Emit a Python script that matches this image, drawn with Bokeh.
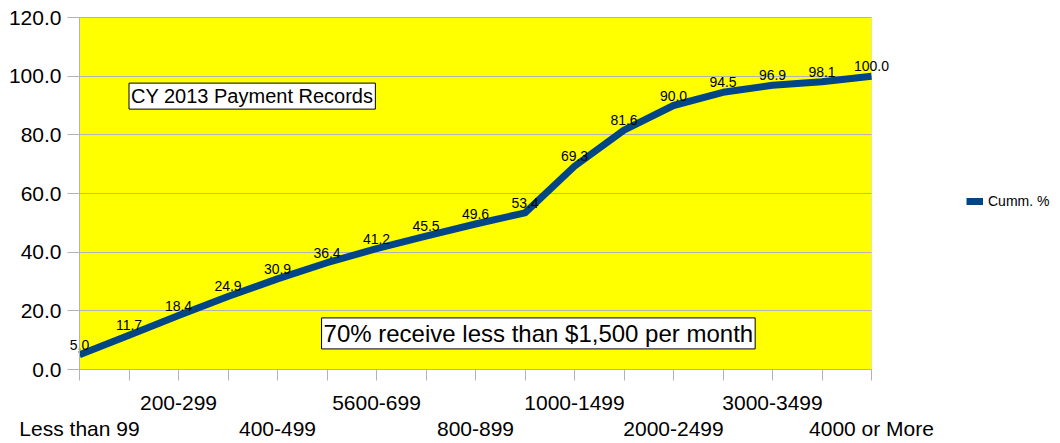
from bokeh.plotting import figure
from bokeh.models import (ColumnDataSource, FixedTicker, LinearAxis, Label,
                          Legend, LegendItem, Range1d, NumeralTickFormatter,
                          BoxAnnotation)
from bokeh.embed import file_html
from bokeh.resources import INLINE

# Monthly payment brackets and cumulative share of records (%)
brackets = [
    "Less than 99", "100-199", "200-299", "300-399", "400-499", "500-599",
    "5600-699", "700-799", "800-899", "900-999", "1000-1499", "1500-1999",
    "2000-2499", "2500-2999", "3000-3499", "3500-3999", "4000 or More",
]
cumm_pct = [5.0, 11.7, 18.4, 24.9, 30.9, 36.4, 41.2, 45.5, 49.6, 53.4,
            69.3, 81.6, 90.0, 94.5, 96.9, 98.1, 100.0]
y_ticks = [0, 20, 40, 60, 80, 100, 120]
series_name = "Cumm. %"

FONT = "Liberation Sans"
LINE_BLUE = "#004586"
GRID_GRAY = "#b3b3b3"

W, H = 1060, 443
# pixel extent of the yellow plotting wall inside the page
WALL_LEFT, WALL_RIGHT, WALL_TOP, WALL_BOTTOM = 79, 871, 17, 369
Y_MAX = 120
n = len(brackets)
px_x = (WALL_RIGHT - WALL_LEFT) / (n - 1)
px_y = (WALL_BOTTOM - WALL_TOP) / Y_MAX
x_lo = -WALL_LEFT / px_x
x_hi = (n - 1) + (W - WALL_RIGHT) / px_x
y_lo = -(H - WALL_BOTTOM) / px_y
y_hi = Y_MAX + WALL_TOP / px_y

idx = list(range(n))
src = ColumnDataSource(dict(
    x=idx,
    y=cumm_pct,
    lbl=[f"{v:.1f}" for v in cumm_pct],
))

# The frame spans the whole page so that edge labels, axes and the key are
# never clipped; the yellow wall covers only the data span.
p = figure(
    width=W, height=H,
    x_range=Range1d(x_lo, x_hi),
    y_range=Range1d(y_lo, y_hi),
    output_backend="svg", toolbar_location=None,
    min_border=0,
    background_fill_color="white",
    border_fill_color="white",
    outline_line_color=None,
)

p.add_layout(BoxAnnotation(
    left=0, right=n - 1, bottom=0, top=Y_MAX,
    fill_color="#ffff00", fill_alpha=1.0,
    line_color=GRID_GRAY, line_width=1, level="image",
))

# Grid: horizontal only, limited to the wall
p.xgrid.visible = False
p.ygrid.grid_line_color = GRID_GRAY
p.ygrid.ticker = FixedTicker(ticks=y_ticks)
p.ygrid.cross_bounds = (0, n - 1)

# Y axis, pinned to the wall's left edge
ya = p.yaxis[0]
ya.fixed_location = 0
ya.bounds = (0, Y_MAX)
ya.ticker = FixedTicker(ticks=y_ticks)
ya.formatter = NumeralTickFormatter(format="0.0")
ya.axis_line_color = GRID_GRAY
ya.major_tick_line_color = GRID_GRAY
ya.major_tick_in = 0
ya.major_tick_out = 12
ya.minor_tick_line_color = None
ya.major_label_standoff = 6
ya.major_label_text_font = FONT
ya.major_label_text_font_size = "21px"
ya.major_label_text_color = "black"

# X axis, upper row of labels (every fourth bracket starting at the third)
row1 = set(range(2, n, 4))
row2 = set(range(0, n, 4))
xa = p.xaxis[0]
xa.fixed_location = 0
xa.bounds = (0, n - 1)
xa.ticker = FixedTicker(ticks=idx)
xa.major_label_overrides = {i: (brackets[i] if i in row1 else "") for i in idx}
xa.axis_line_color = GRID_GRAY
xa.major_tick_line_color = GRID_GRAY
xa.major_tick_in = 0
xa.major_tick_out = 11
xa.minor_tick_line_color = None
xa.major_label_standoff = 15
xa.major_label_text_font = FONT
xa.major_label_text_font_size = "21px"
xa.major_label_text_color = "black"

# X axis, lower row of labels
xb = LinearAxis(
    fixed_location=0,
    bounds=(0, n - 1),
    ticker=FixedTicker(ticks=sorted(row2)),
    major_label_overrides={i: brackets[i] for i in row2},
    axis_line_color=None,
    major_tick_line_color=None,
    minor_tick_line_color=None,
    major_tick_in=0, major_tick_out=0,
    major_label_standoff=47,
    major_label_text_font=FONT,
    major_label_text_font_size="21px",
    major_label_text_color="black",
)
p.add_layout(xb, "below")

# Cumulative line
r = p.line("x", "y", source=src, line_color=LINE_BLUE, line_width=7,
           line_join="round")

# Value labels above each point
p.text("x", "y", text="lbl", source=src, text_align="center",
       text_baseline="alphabetic", y_offset=-10,
       text_font={"value": FONT}, text_font_size="14px", text_color="black")

# Boxed annotations
p.add_layout(Label(
    x=1.0, y=93.2, text="CY 2013 Payment Records",
    text_align="left", text_baseline="middle",
    text_font=FONT, text_font_size="20px", text_color="black",
    background_fill_color="white", border_line_color="black",
    border_line_width=1, padding=2,
))
p.add_layout(Label(
    x=9.27, y=12.3, text="70% receive less than $1,500 per month",
    text_align="center", text_baseline="middle",
    text_font=FONT, text_font_size="24px", text_color="black",
    background_fill_color="white", border_line_color="black",
    border_line_width=1, padding=2,
))

# Series key to the right of the wall
legend = Legend(
    items=[LegendItem(label=series_name, renderers=[r])],
    location=(966, 234),
    padding=0, margin=0, spacing=0,
    glyph_width=17, glyph_height=8, label_height=14,
    label_standoff=5,
    label_text_font=FONT, label_text_font_size="14px",
    label_text_color="black",
    border_line_color=None, background_fill_color=None,
)
p.add_layout(legend, "center")

open("out.html", "w").write(file_html(p, INLINE))
